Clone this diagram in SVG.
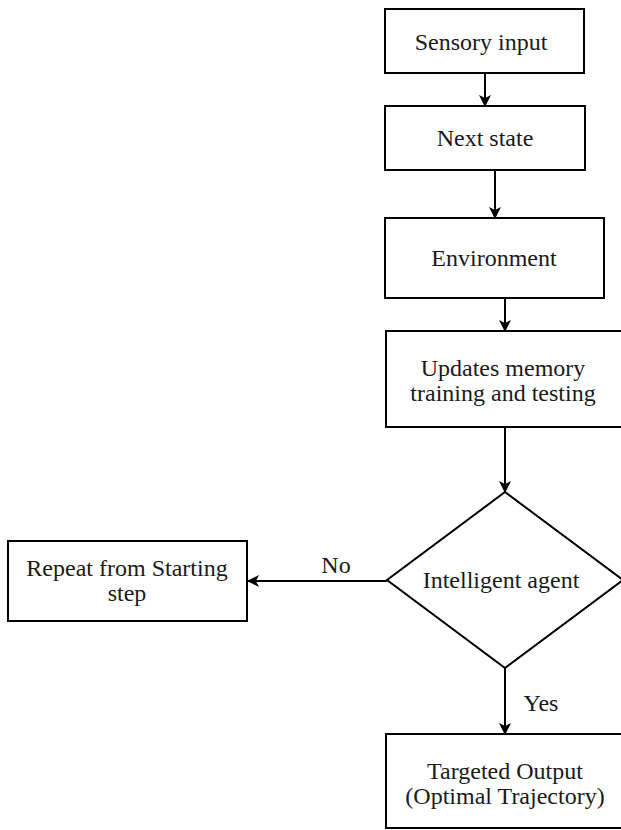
<svg xmlns="http://www.w3.org/2000/svg" width="621" height="830" viewBox="0 0 621 830">
  <style>
    .box { fill: #ffffff; stroke: #000000; stroke-width: 2; }
    .edge { fill: none; stroke: #000000; stroke-width: 2; }
    text { font-family: "Liberation Serif", "Times New Roman", serif; font-size: 24px; fill: #1a1a1a; text-anchor: middle; dominant-baseline: central; }
  </style>
  <defs>
    <marker id="arrow" viewBox="0 0 12 12" refX="11" refY="6" markerWidth="12" markerHeight="12" markerUnits="userSpaceOnUse" orient="auto">
      <path d="M0,0 L12,6 L0,12 L3,6 Z" fill="#000000"/>
    </marker>
  </defs>
  <rect width="621" height="830" fill="#ffffff"/>
  <g id="connectors">
    <line class="edge" x1="485" y1="73" x2="485" y2="106" marker-end="url(#arrow)"/>
    <line class="edge" x1="495" y1="170" x2="495" y2="218" marker-end="url(#arrow)"/>
    <line class="edge" x1="505" y1="298" x2="505" y2="331" marker-end="url(#arrow)"/>
    <line class="edge" x1="505" y1="427" x2="505" y2="492" marker-end="url(#arrow)"/>
    <line class="edge" x1="387" y1="581" x2="248" y2="581" marker-end="url(#arrow)"/>
    <line class="edge" x1="505" y1="668" x2="505" y2="734" marker-end="url(#arrow)"/>
    <text x="336" y="565">No</text>
    <text x="541" y="703">Yes</text>
  </g>
  <g id="sensory-input">
    <rect class="box" x="385" y="9" width="199" height="64"/>
    <text x="481" y="42">Sensory input</text>
  </g>
  <g id="next-state">
    <rect class="box" x="385" y="106" width="200" height="64"/>
    <text x="485" y="138">Next state</text>
  </g>
  <g id="environment">
    <rect class="box" x="385" y="218" width="219" height="80"/>
    <text x="494" y="258">Environment</text>
  </g>
  <g id="updates-memory">
    <rect class="box" x="386" y="331" width="240" height="96"/>
    <text x="503" y="368">Updates memory</text>
    <text x="503" y="393">training and testing</text>
  </g>
  <g id="intelligent-agent">
    <polygon class="box" points="505,492 623,580 505,668 387,580"/>
    <text x="501" y="580">Intelligent agent</text>
  </g>
  <g id="repeat">
    <rect class="box" x="8" y="541" width="239" height="80"/>
    <text x="127" y="568">Repeat from Starting</text>
    <text x="127" y="593">step</text>
  </g>
  <g id="targeted-output">
    <rect class="box" x="386" y="734" width="240" height="94"/>
    <text x="505" y="771">Targeted Output</text>
    <text x="505" y="796">(Optimal Trajectory)</text>
  </g>
</svg>
